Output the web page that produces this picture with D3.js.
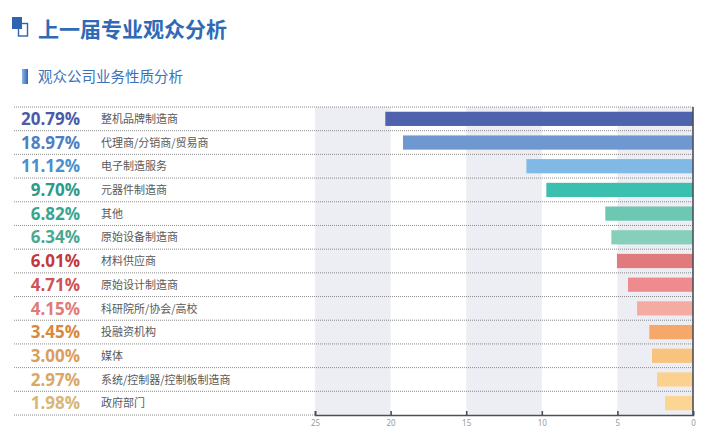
<!DOCTYPE html>
<html>
<head>
<meta charset="utf-8">
<script src="https://cdn.jsdelivr.net/npm/d3@7"></script>
<style>
  html, body { margin: 0; padding: 0; background: #fff; }
  svg { display: block; }
  .cat { font-family: "Noto Sans CJK SC", "Noto Sans", sans-serif; font-size: 11px; fill: #5a5a5a; }
  .pct { font-family: "Open Sans", "Noto Sans", sans-serif; font-size: 17px; font-weight: 700; }
  .tick text { font-family: "Noto Sans", sans-serif; font-size: 8px; fill: #999; }
</style>
</head>
<body>
<div class="chart"></div>
<script>
const categories = ['整机品牌制造商', '代理商/分销商/贸易商', '电子制造服务', '元器件制造商', '其他', '原始设备制造商', '材料供应商', '原始设计制造商', '科研院所/协会/高校', '投融资机构', '媒体', '系统/控制器/控制板制造商', '政府部门']
// printed percentages
const values = [20.79, 18.97, 11.12, 9.70, 6.82, 6.34, 6.01, 4.71, 4.15, 3.45, 3.00, 2.97, 1.98]
// bar lengths as drawn against the axis (they don't quite follow the printed numbers)
const barValues = [20.35, 19.18, 11.02, 9.70, 5.80, 5.40, 5.03, 4.30, 3.70, 2.89, 2.71, 2.38, 1.85]
const barColors = ['#4f62ae', '#6e98cf', '#80b8e6', '#3bbfae', '#6cc7b3', '#86cfba', '#e07a7d', '#ef8b8f', '#f5aaa2', '#f5a86a', '#f8c27f', '#fbd18f', '#fcd592']
const labelColors = ['#4a5ba8', '#4c80c0', '#4a90cc', '#2e9a88', '#3aa58e', '#4aa891', '#c0393f', '#cf5257', '#e07b78', '#d9883e', '#dc9d5a', '#d9a866', '#d8b676']
const ticks = [25, 20, 15, 10, 5, 0]

const W = 717
const H = 436
const plotTop = 107
const plotBottom = 415
const left = 315
const right = 693

const svg = d3.select('.chart').append('svg')
	.attr('width', W)
	.attr('height', H)

const defs = svg.append('defs')
const grad = defs.append('linearGradient').attr('id', 'subGrad')
grad.append('stop').attr('offset', '0%').attr('stop-color', '#8fb6e6')
grad.append('stop').attr('offset', '100%').attr('stop-color', '#2f63b5')

// heading
svg.append('rect').attr('x', 12).attr('y', 17).attr('width', 10).attr('height', 12).attr('fill', '#2e62b3')
svg.append('rect').attr('x', 18.5).attr('y', 23.5).attr('width', 9).attr('height', 12.5)
	.attr('fill', 'none').attr('stroke', '#2e62b3').attr('stroke-width', 1.4)
svg.append('text')
	.attr('x', 38).attr('y', 37)
	.style('font-family', '"Noto Sans CJK SC", sans-serif')
	.style('font-size', '21px').style('font-weight', 700)
	.attr('fill', '#2e6ab6')
	.text('上一届专业观众分析')

svg.append('rect').attr('x', 22).attr('y', 69).attr('width', 6).attr('height', 15).attr('fill', 'url(#subGrad)')
svg.append('text')
	.attr('x', 38).attr('y', 82)
	.style('font-family', '"Noto Sans CJK SC", sans-serif')
	.style('font-size', '14.5px')
	.attr('fill', '#3a72b8')
	.text('观众公司业务性质分析')

const x = d3.scaleLinear().domain([25, 0]).range([left, right])
const y = d3.scaleBand().domain(categories).range([plotTop, plotBottom])
	.paddingInner(0.4).paddingOuter(0.2)

// shaded bands
const bands = [[25, 20], [15, 10], [5, 0]]
svg.append('g').selectAll('rect').data(bands).join('rect')
	.attr('x', d => x(d[0]))
	.attr('y', plotTop)
	.attr('width', d => x(d[1]) - x(d[0]))
	.attr('height', plotBottom - plotTop)
	.attr('fill', '#eceef3')

// dotted row separators
const step = y.step()
const lines = d3.range(categories.length + 1)
svg.append('g').selectAll('line').data(lines).join('line')
	.attr('x1', 14)
	.attr('x2', d => d === categories.length ? left : right)
	.attr('y1', d => plotTop + d * step)
	.attr('y2', d => plotTop + d * step)
	.attr('stroke', '#6f6f6f')
	.attr('stroke-width', 0.8)
	.attr('stroke-dasharray', '1,1')

// bars
svg.append('g').selectAll('rect').data(barValues).join('rect')
	.attr('x', d => x(d))
	.attr('y', (d, i) => y(categories[i]))
	.attr('width', d => x(0) - x(d))
	.attr('height', y.bandwidth())
	.attr('fill', (d, i) => barColors[i])

// labels
const rows = svg.append('g').selectAll('g').data(categories).join('g')
	.attr('transform', d => `translate(0, ${y(d) + y.bandwidth() / 2})`)

rows.append('text')
	.attr('class', 'pct')
	.attr('x', 80)
	.attr('dy', '0.36em')
	.attr('text-anchor', 'end')
	.attr('fill', (d, i) => labelColors[i])
	.text((d, i) => values[i].toFixed(2) + '%')

rows.append('text')
	.attr('class', 'cat')
	.attr('x', 101)
	.attr('dy', '0.38em')
	.text(d => d)

// axis
const axis = svg.append('g')
	.attr('transform', `translate(0, ${plotBottom})`)
	.call(d3.axisBottom(x).tickValues(ticks).tickSize(-4).tickPadding(5))
axis.select('.domain').attr('stroke', '#4a4f5a').attr('stroke-width', 1.6)
axis.selectAll('.tick line').attr('stroke', '#4a4f5a').attr('stroke-width', 1.6)

svg.append('line')
	.attr('x1', right).attr('x2', right)
	.attr('y1', plotTop).attr('y2', plotBottom)
	.attr('stroke', '#4a4f5a').attr('stroke-width', 1.6)
</script>
</body>
</html>
